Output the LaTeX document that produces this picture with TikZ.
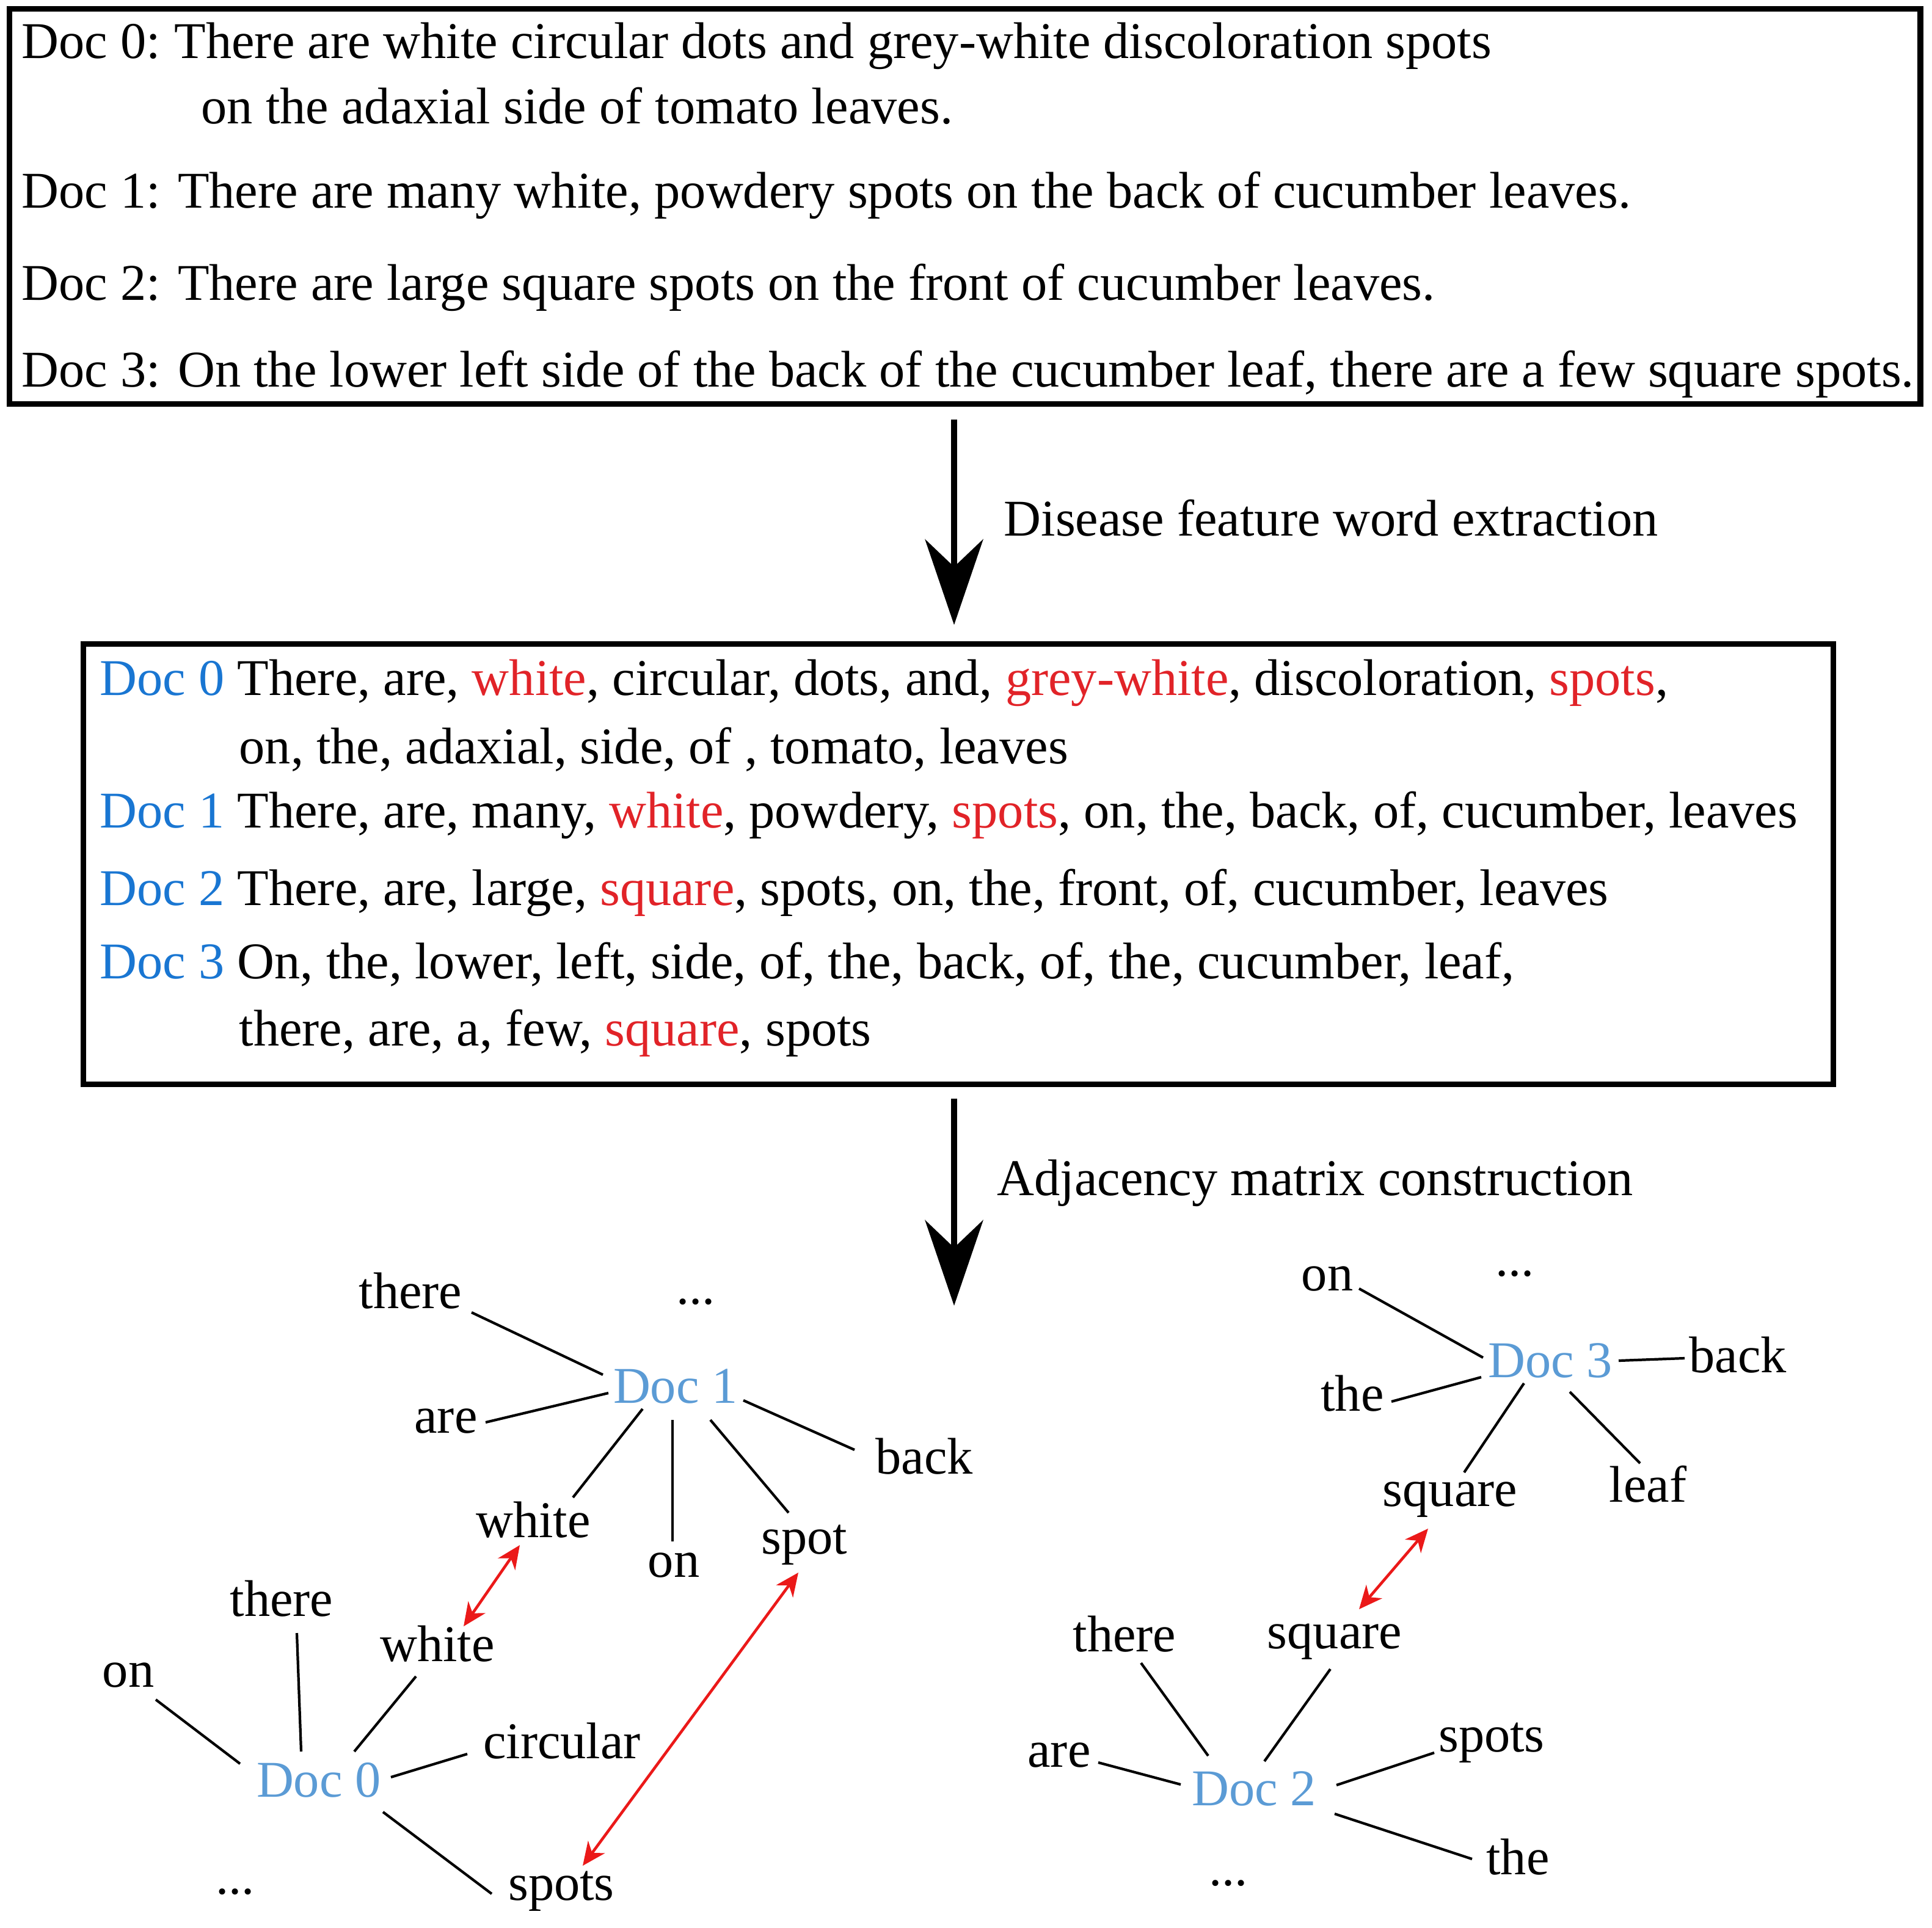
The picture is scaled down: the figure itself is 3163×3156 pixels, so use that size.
\documentclass[tikz,border=0pt]{standalone}
\usepackage{fontspec}
\setmainfont{Liberation Serif}
\usetikzlibrary{arrows.meta}
\definecolor{docblue}{RGB}{25,118,210}
\definecolor{gblue}{RGB}{91,155,213}
\definecolor{hlred}{RGB}{225,35,40}
\definecolor{arrred}{RGB}{235,25,25}
\newcommand\rw[1]{\textcolor{hlred}{#1}}
\newcommand\bd[1]{\textcolor{docblue}{#1}}
\begin{document}
\begin{tikzpicture}[x=0.01cm,y=-0.01cm,
  every node/.style={font=\fontsize{24}{29}\selectfont, inner sep=0pt},
  txt/.style={anchor=base west},
  box/.style={draw, line width=2.6pt, rectangle},
  word/.style={anchor=base, text height=0.59cm, text depth=0.19cm},
  docnode/.style={word, text=gblue},
  link/.style={line width=1.2pt},
  match/.style={line width=1.3pt, draw=arrred, {Stealth[length=0.38cm,width=0.34cm,inset=0.12cm]}-{Stealth[length=0.38cm,width=0.34cm,inset=0.12cm]}},
  bigarrow/.style={line width=2.8pt, -{Stealth[length=1.4cm,width=0.95cm,inset=0.45cm]}},
]
\useasboundingbox (0,0) rectangle (3163,3156);

% top box
\node[box, minimum width=31.27cm, minimum height=6.46cm] (box1) at (1579.5,338) {};
\node[txt] (a0) at (35,95) {Doc 0:};
\node[txt] (a0t) at (285,95) {There are white circular dots and grey-white discoloration spots};
\node[txt] (a0u) at (329,202) {on the adaxial side of tomato leaves.};
\node[txt] (a1) at (35,340) {Doc 1: There are many white, powdery spots on the back of cucumber leaves.};
\node[txt] (a2) at (35,491) {Doc 2: There are large square spots on the front of cucumber leaves.};
\node[txt] (a3) at (35,633) {Doc 3: On the lower left side of the back of the cucumber leaf, there are a few square spots.};

% middle box
\node[box, minimum width=28.64cm, minimum height=7.2cm] (box2) at (1569,1415) {};
\node[txt] (b0) at (163,1138) {\bd{Doc 0} There, are, \rw{white}, circular, dots, and, \rw{grey-white}, discoloration, \rw{spots},};
\node[txt] (b0u) at (391,1250) {on, the, adaxial, side, of , tomato, leaves};
\node[txt] (b1) at (163,1355) {\bd{Doc 1} There, are, many, \rw{white}, powdery, \rw{spots}, on, the, back, of, cucumber, leaves};
\node[txt] (b2) at (163,1482) {\bd{Doc 2} There, are, large, \rw{square}, spots, on, the, front, of, cucumber, leaves};
\node[txt] (b3) at (163,1602) {\bd{Doc 3} On, the, lower, left, side, of, the, back, of, the, cucumber, leaf,};
\node[txt] (b3u) at (391,1712) {there, are, a, few, \rw{square}, spots};

% process arrows
\coordinate (ax) at (1562,0);
\draw[bigarrow, shorten <=0.21cm, shorten >=0.27cm] (box1.south -| ax) -- (box2.north -| ax);
\node[txt] (lab1) at (1643,877) {Disease feature word extraction};
\coordinate (a2end) at (1562,2138);
\draw[bigarrow, shorten <=0.19cm] (box2.south -| ax) -- (a2end);
\node[txt] (lab2) at (1632,1957) {Adjacency matrix construction};

% left graph
\node[word] (there1) at (672,2142) {there};
\node[word] (dots1) at (1139,2135) {...};
\node[docnode] (doc1) at (1106,2297) {Doc 1};
\node[word] (are1) at (730,2346) {are};
\node[word] (back1) at (1513,2413) {back};
\node[word] (white1) at (873,2517) {white};
\node[word] (on1) at (1103,2582) {on};
\node[word] (spot1) at (1317,2544) {spot};
\node[word] (there0) at (461,2646) {there};
\node[word] (white0) at (716,2720) {white};
\node[word] (on0) at (210,2762) {on};
\node[word] (circ0) at (920,2879) {circular};
\node[docnode] (doc0) at (522,2942) {Doc 0};
\node[word] (dots0) at (385,3101) {...};
\node[word] (spots0) at (919,3111) {spots};

\draw[link] ([shift={(100,27)}]there1.center) -- ([shift={(-119,-26)}]doc1.center);
\draw[link] ([shift={(65,3)}]are1.center) -- ([shift={(-110,4)}]doc1.center);
\draw[link] ([shift={(-54,30)}]doc1.center) -- ([shift={(65,-45)}]white1.center);
\draw[link] ([shift={(-5,48)}]doc1.center) -- ([shift={(-2,-38)}]on1.center);
\draw[link] ([shift={(57,48)}]doc1.center) -- ([shift={(-26,-47)}]spot1.center);
\draw[link] ([shift={(111,16)}]doc1.center) -- ([shift={(-114,-19)}]back1.center);
\draw[link] ([shift={(45,41)}]on0.center) -- ([shift={(-129,-34)}]doc0.center);
\draw[link] ([shift={(25,48)}]there0.center) -- ([shift={(-29,-54)}]doc0.center);
\draw[link] ([shift={(-35,45)}]white0.center) -- ([shift={(58,-54)}]doc0.center);
\draw[link] ([shift={(-155,13)}]circ0.center) -- ([shift={(118,-12)}]doc0.center);
\draw[link] ([shift={(105,45)}]doc0.center) -- ([shift={(-114,10)}]spots0.center);
\draw[match] ([shift={(-22,33)}]white1.center) -- ([shift={(43,-37)}]white0.center);
\draw[match] ([shift={(-10,51)}]spot1.center) -- ([shift={(35,-36)}]spots0.center);

% right graph
\node[word] (on3) at (2173,2113) {on};
\node[word] (dots3) at (2480,2089) {...};
\node[docnode] (doc3) at (2538,2255) {Doc 3};
\node[word] (back3) at (2845,2247) {back};
\node[word] (the3) at (2214,2310) {the};
\node[word] (sq3) at (2374,2466) {square};
\node[word] (leaf3) at (2698,2459) {leaf};
\node[word] (there2) at (1841,2704) {there};
\node[word] (sq2) at (2185,2699) {square};
\node[word] (are2) at (1734,2893) {are};
\node[word] (spots2) at (2442,2868) {spots};
\node[docnode] (doc2) at (2053,2956) {Doc 2};
\node[word] (the2) at (2485,3069) {the};
\node[word] (dots2) at (2011,3087) {...};

\draw[link] ([shift={(52,17)}]on3.center) -- ([shift={(-110,-12)}]doc3.center);
\draw[link] ([shift={(64,5)}]the3.center) -- ([shift={(-113,20)}]doc3.center);
\draw[link] ([shift={(112,-7)}]doc3.center) -- ([shift={(-87,-3)}]back3.center);
\draw[link] ([shift={(-43,30)}]doc3.center) -- ([shift={(23,-35)}]sq3.center);
\draw[link] ([shift={(32,44)}]doc3.center) -- ([shift={(-13,-43)}]leaf3.center);
\draw[link] ([shift={(27,39)}]there2.center) -- ([shift={(-75,-61)}]doc2.center);
\draw[link] ([shift={(-7,54)}]sq2.center) -- ([shift={(17,-52)}]doc2.center);
\draw[link] ([shift={(64,13)}]are2.center) -- ([shift={(-120,-14)}]doc2.center);
\draw[link] ([shift={(135,-13)}]doc2.center) -- ([shift={(-94,22)}]spots2.center);
\draw[link] ([shift={(132,34)}]doc2.center) -- ([shift={(-75,-5)}]the2.center);
\draw[match] ([shift={(-36,57)}]sq3.center) -- ([shift={(40,-44)}]sq2.center);
\end{tikzpicture}
\end{document}
